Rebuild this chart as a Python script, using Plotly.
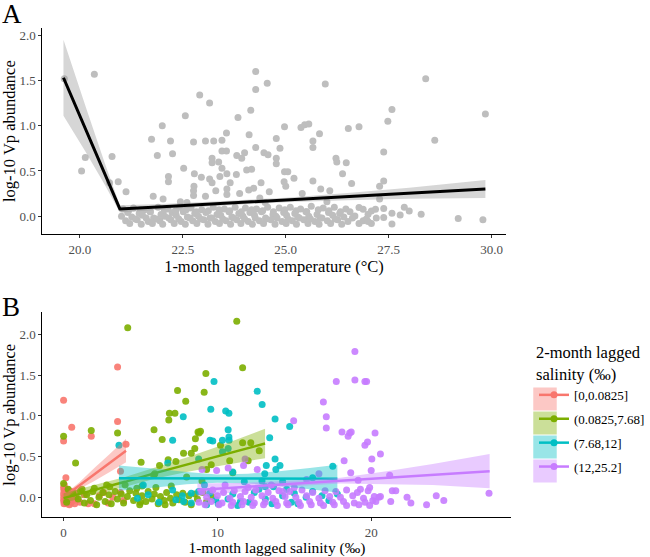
import plotly.graph_objects as go

# ---------------- Panel A: temperature vs log-10 Vp abundance ----------------
temp_a = [19.62, 20.35, 20.13, 20.04, 20.78, 20.72, 20.93, 21.12, 21.74, 22.00,
          21.88, 22.20, 22.25, 22.15, 22.15, 22.56, 22.52, 22.76, 22.78, 22.77,
          22.76, 22.76, 22.91, 23.05, 22.95, 23.15, 23.25, 23.21, 23.21, 23.37,
          23.15, 23.21, 23.05, 23.45, 23.56, 23.45, 23.56, 23.45, 23.40, 23.57,
          23.65, 23.57, 23.57, 23.81, 23.93, 24.00, 23.80, 23.88, 24.05, 24.17,
          23.84, 24.15, 24.11, 24.27, 24.27, 24.27, 24.55, 24.47, 24.57, 24.40,
          24.22, 24.10, 24.37, 24.77, 24.86, 24.77, 24.77, 24.97, 24.97, 25.05,
          24.96, 25.00, 25.20, 25.37, 25.46, 25.56, 25.66, 25.66, 25.66, 25.82,
          25.96, 26.52, 26.22, 26.24, 26.47, 26.38, 26.07, 26.78, 27.58, 27.48,
          28.40, 29.85, 28.62, 27.38, 27.38, 27.28, 27.28, 26.60, 21.78, 22.02,
          22.44, 25.40, 24.60, 25.85, 23.30, 24.50, 26.00, 22.60,
          26.78, 26.88, 27.08, 27.18, 27.00, 27.38, 27.58, 27.78, 27.88, 28.00,
          28.29, 29.19, 29.79, 27.58, 27.38, 27.08, 26.78, 26.68, 26.96, 26.88,
          27.20, 27.00,
          21.05, 21.30, 21.57, 21.90, 22.13, 22.42, 22.70, 22.96, 23.24, 23.51,
          23.77, 24.02, 24.29, 24.56, 24.84, 25.11, 25.36, 25.62, 25.91, 26.18,
          26.46, 21.16, 21.44, 21.71, 21.97, 22.24, 22.51, 22.79, 23.06, 23.33,
          23.62, 23.86, 24.13, 24.41, 24.69, 24.95, 25.22, 25.49, 25.76, 26.04,
          26.31, 26.56, 21.01, 21.26, 21.52, 21.79, 22.06, 22.34, 22.61, 22.88,
          23.16, 23.42, 23.69, 23.96, 24.24, 24.51, 24.76, 25.02, 25.29, 25.56,
          25.84, 26.14, 26.41, 21.11, 21.39, 21.66, 21.94, 22.21, 22.46, 22.74,
          23.01, 23.29, 23.55, 23.81, 24.09, 24.36, 24.64, 24.91, 25.16, 25.44,
          25.71, 26.01, 26.26, 26.51, 21.21, 21.49, 21.76, 22.01, 22.29, 22.56,
          22.84, 23.11, 23.39, 23.66, 23.91, 24.19, 24.46, 24.74, 25.01, 25.26,
          25.54, 25.81, 26.09, 26.36,
          21.18, 21.47, 21.71, 22.05, 22.33, 22.58, 22.83, 23.12, 23.38, 23.64,
          23.92, 24.17, 24.44, 24.70, 24.98, 25.25, 25.51, 25.79, 26.05, 26.33,
          21.35, 21.61, 21.86, 22.16, 22.40, 22.67, 22.93, 23.20, 23.47, 23.73,
          24.00, 24.26, 24.52, 24.79, 25.06, 25.33, 25.60, 25.88, 26.20, 26.62]
vp_a = [1.52, 1.57, 0.65, 0.50, 0.66, 0.37, 0.38, 0.27, 0.85, 1.00,
        0.67, 0.83, 0.69, 0.44, 0.38, 1.11, 0.53, 0.82, 0.47, 0.33,
        0.28, 0.23, 1.34, 0.83, 0.43, 1.25, 0.83, 0.64, 0.59, 0.60,
        0.41, 0.37, 0.22, 0.84, 0.92, 0.72, 0.72, 0.53, 0.44, 0.47,
        0.37, 0.30, 0.24, 0.67, 0.64, 0.70, 0.46, 0.25, 0.51, 0.52,
        1.09, 1.17, 0.90, 1.60, 1.40, 0.76, 1.47, 0.70, 0.68, 0.37,
        0.31, 0.29, 0.20, 0.86, 0.75, 0.64, 0.58, 0.99, 0.49, 0.49,
        0.38, 0.33, 0.42, 0.98, 1.01, 1.02, 0.83, 0.76, 0.39, 0.91,
        1.46, 0.97, 0.64, 0.60, 0.59, 0.47, 0.28, 0.99, 1.18, 1.05,
        1.52, 1.13, 0.84, 0.71, 0.39, 0.33, 0.19, 0.36, 0.22, 0.19,
        0.16, 0.25, 0.27, 0.30, 0.28, 0.15, 0.16, 0.15,
        0.095, 0.077, 0.058, 0.077, 0.022, 0.084, 0.033, 0.014, 0.10, 0.058,
        0.022, -0.025, -0.04, -0.087, -0.015, -0.08, -0.08, 0.003, -0.03, -0.05,
        -0.02, -0.06,
        0.08, 0.09, 0.07, 0.10, 0.08, 0.10, 0.09, 0.07, 0.10, 0.08,
        0.10, 0.09, 0.08, 0.10, 0.09, 0.10, 0.08, 0.11, 0.09, 0.10,
        0.08, 0.04, 0.03, 0.05, 0.02, 0.04, 0.05, 0.03, 0.04, 0.02,
        0.05, 0.03, 0.04, 0.05, 0.02, 0.04, 0.03, 0.05, 0.02, 0.04,
        0.03, 0.05, 0.00, -0.01, 0.01, -0.02, 0.00, 0.01, -0.01, 0.00,
        -0.02, 0.01, -0.01, 0.00, 0.01, -0.02, 0.00, 0.01, -0.01, 0.00,
        -0.02, 0.01, -0.01, -0.05, -0.04, -0.06, -0.05, -0.04, -0.06, -0.05,
        -0.04, -0.06, -0.05, -0.04, -0.06, -0.05, -0.04, -0.06, -0.05, -0.04,
        -0.06, -0.05, -0.04, -0.06, -0.08, -0.09, -0.08, -0.09, -0.08, -0.09,
        -0.08, -0.09, -0.08, -0.09, -0.08, -0.09, -0.08, -0.09, -0.08, -0.09,
        -0.08, -0.09, -0.08, -0.09,
        0.06, 0.07, 0.05, 0.07, 0.06, 0.07, 0.05, 0.06, 0.07, 0.06,
        0.05, 0.07, 0.06, 0.05, 0.07, 0.06, 0.05, 0.07, 0.06, 0.05,
        -0.03, -0.02, -0.03, -0.02, -0.03, -0.02, -0.03, -0.02, -0.03, -0.02,
        -0.03, -0.02, -0.03, -0.02, -0.03, -0.02, -0.03, -0.02, -0.03, -0.02]

# segmented regression
temp_fit = [19.6, 20.14, 20.6, 20.97, 22.0, 23.5, 25.0, 26.5, 28.0, 29.85]
vp_fit = [1.53, 0.96, 0.47, 0.08, 0.105, 0.143, 0.18, 0.217, 0.254, 0.30]
vp_fit_lo = [1.11, 0.71, 0.35, 0.04, 0.075, 0.118, 0.155, 0.177, 0.194, 0.20]
vp_fit_hi = [1.95, 1.21, 0.59, 0.12, 0.135, 0.168, 0.205, 0.257, 0.314, 0.40]

# ---------------- Panel B: salinity vs log-10 Vp abundance ----------------
groups = ["[0,0.0825]", "(0.0825,7.68]", "(7.68,12]", "(12,25.2]"]
colors = ["#F8766D", "#7CAE00", "#00BFC4", "#C77CFF"]
fills = ["rgba(248,118,109,0.4)", "rgba(124,174,0,0.4)",
         "rgba(0,191,196,0.4)", "rgba(199,124,255,0.4)"]

sal_red = [0.0, 0.0, 0.53, 0.15, 1.8, 3.51, 3.51, 4.06, 3.7, 0.05,
           0.0, 0.02, 0.0, 0.01, 0.0, 0.03, 0.1, 0.12, 0.09, 0.2,
           0.22, 0.18, 0.3, 0.28, 0.33, 0.4, 0.42, 0.38, 0.5, 0.52,
           0.47, 0.6, 0.63, 0.7, 0.72, 0.8, 0.05, 1.06, 1.35, 1.6,
           2.0, 2.33, 2.6, 2.9, 3.2, 3.7, 3.9]
vp_red = [1.19, 0.69, 0.86, 0.24, 0.75, 1.60, 0.93, 0.65, 0.32, 0.10,
          0.12, 0.08, 0.04, 0.0, -0.04, -0.08, 0.10, 0.02, -0.06, 0.06,
          -0.02, -0.08, 0.09, 0.01, -0.05, 0.04, -0.03, -0.09, 0.07, -0.01,
          -0.07, 0.03, -0.04, 0.06, -0.08, 0.0, 0.15, -0.06, 0.03, -0.08,
          -0.08, 0.02, 0.06, -0.07, 0.0, 0.06, -0.04]

sal_green = [4.17, 0.0, 0.78, 1.8, 3.51, 0.0, 5.88, 6.41, 6.84, 6.88,
             7.24, 7.41, 7.94, 8.53, 7.8, 8.3, 7.3, 8.74, 11.26, 11.64,
             9.25, 9.14, 8.9, 8.8, 12.17, 12.72, 11.64, 8.57, 9.3, 9.6,
             10.2, 5.04, 5.86, 6.24, 6.8, 9.0, 8.0, 10.8, 11.0, 12.0,
             4.76, 5.1, 5.93, 2.8, 1.2, 0.3, 0.2, 2.0, 3.0, 4.0,
             6.0, 7.0, 5.0, 6.6, 0.6, 0.95, 1.1, 1.35, 1.5, 1.75,
             1.9, 2.15, 2.3, 2.55, 2.7, 2.95, 3.1, 3.35, 3.5, 3.75,
             3.9, 4.15, 4.3, 4.55, 4.7, 4.95, 5.1, 5.35, 5.5, 5.75,
             5.9, 6.15, 6.3, 6.55, 6.7, 6.95, 7.1, 7.35, 7.5, 7.75,
             7.9, 8.15, 8.3, 8.55, 8.7, 9.05, 9.3, 9.65]
vp_green = [2.08, 0.75, 0.42, 0.82, 0.79, 0.17, 0.83, 0.71, 0.95, 1.03,
            1.03, 1.31, 1.18, 0.60, 0.54, 0.54, 0.44, 0.80, 2.16, 1.59,
            1.52, 1.29, 0.81, 0.79, 0.67, 0.57, 0.67, 0.72, 0.34, 0.40,
            0.64, 0.43, 0.27, 0.39, 0.46, 0.20, 0.25, 0.45, 0.30, 0.45,
            0.11, 0.14, 0.29, 0.15, 0.10, 0.10, -0.06, 0.11, 0.13, 0.15,
            0.12, 0.14, -0.06, -0.09, 0.05, -0.02, 0.08, -0.07, 0.03, -0.04,
            0.07, -0.09, 0.0, 0.06, -0.05, 0.03, -0.08, 0.07, -0.02, 0.04,
            -0.07, 0.01, 0.08, -0.04, 0.05, -0.09, 0.02, -0.05, 0.07, -0.02,
            0.04, -0.08, 0.01, -0.04, 0.06, -0.01, -0.07, 0.03, -0.03, 0.05,
            -0.06, 0.02, -0.09, 0.04, -0.02, 0.06, -0.05, 0.01]

sal_cyan = [9.78, 12.59, 12.91, 9.57, 10.54, 10.75, 13.75, 14.7, 10.7, 10.75,
            10.76, 9.52, 9.7, 13.4, 7.78, 7.09, 3.6, 17.5, 6.77, 8.78,
            10.33, 10.7, 10.33, 13.75, 14.07, 13.8, 13.18, 13.08, 16.19, 14.5,
            5.18, 7.09, 7.72, 8.3, 7.3, 7.8, 8.3, 10.05, 10.69, 11.32,
            12.06, 13.12, 13.55, 14.81, 15.24, 15.77, 14.24, 13.65, 13.12, 16.19,
            17.25, 9.16, 8.78, 9.5, 9.9, 11.75, 11.0, 14.24, 12.9, 4.8,
            5.5, 6.2, 11.0, 12.4, 15.0, 16.8, 17.8, 11.5, 9.3, 12.7]
vp_cyan = [1.42, 1.30, 1.14, 1.08, 1.06, 1.03, 0.96, 0.87, 0.83, 0.74,
           0.70, 0.70, 0.69, 0.73, 0.99, 0.70, 0.64, 0.38, 0.42, 0.47,
           0.70, 0.60, 0.56, 0.47, 0.39, 0.34, 0.39, 0.29, 0.24, 0.10,
           0.15, 0.09, 0.02, 0.05, -0.03, -0.05, -0.07, -0.08, -0.02, -0.10,
           -0.06, -0.02, -0.08, -0.06, -0.08, 0.0, 0.02, 0.13, 0.13, 0.07,
           -0.04, 0.15, 0.07, 0.05, -0.03, 0.19, 0.31, 0.19, 0.20, -0.01,
           0.03, -0.06, 0.04, 0.06, 0.05, 0.02, 0.04, -0.05, -0.09, 0.10]

sal_purple = [18.94, 18.94, 19.59, 19.7, 17.73, 16.89, 17.08, 17.08, 18.1, 18.6,
              18.5, 20.25, 19.59, 19.76, 20.04, 20.6, 20.0, 21.2, 19.15, 14.96,
              18.24, 18.67, 12.59, 11.7, 11.8, 10.7, 16.6, 15.8, 14.24, 21.37,
              21.6, 22.33, 22.58, 23.6, 24.23, 24.72, 27.66, 21.27, 20.5, 20.6,
              19.3, 19.9, 20.1, 9.95, 9.0, 10.5, 12.0, 13.5, 15.0, 18.7,
              9.0, 9.7, 10.4, 11.1, 11.8, 12.5, 13.3, 14.0, 14.7, 15.5,
              16.2, 17.0, 17.7, 18.4, 19.1, 19.8, 9.3, 10.0, 10.8, 11.5,
              12.2, 12.9, 13.6, 14.4, 15.1, 15.8, 16.6, 17.3, 18.0, 18.8,
              19.5, 20.2, 8.8, 9.6, 10.3, 11.0, 11.7, 12.4, 13.1, 13.8,
              14.5, 15.3, 16.0, 16.7, 17.5, 18.2, 18.9, 19.6, 20.3, 9.2,
              10.1, 10.9, 11.6, 12.3, 13.0, 13.9, 14.6, 15.4, 16.1, 16.9,
              17.6, 18.4, 19.2, 19.9]
vp_purple = [1.79, 1.44, 1.42, 1.42, 1.42, 1.17, 0.99, 0.85, 0.80, 0.79,
             0.75, 0.79, 0.64, 0.68, 0.47, 0.53, 0.33, 0.27, 0.21, 0.94,
             0.45, 0.30, 0.34, 0.39, 0.47, 0.36, 0.29, 0.22, 0.07, 0.08,
             0.08, 0.0, -0.07, -0.09, 0.02, -0.04, 0.05, -0.05, 0.0, 0.01,
             0.10, 0.12, -0.04, 0.33, 0.34, 0.15, 0.12, 0.15, 0.12, 0.80,
             0.07, 0.09, 0.06, 0.08, 0.07, 0.09, 0.06, 0.08, 0.07, 0.09,
             0.06, 0.08, 0.07, 0.09, 0.06, 0.08, 0.0, 0.02, -0.01, 0.01,
             0.0, 0.02, -0.01, 0.01, 0.0, 0.02, -0.01, 0.01, 0.0, 0.02,
             -0.01, 0.01, -0.06, -0.05, -0.07, -0.06, -0.05, -0.07, -0.06, -0.05,
             -0.07, -0.06, -0.05, -0.07, -0.06, -0.05, -0.07, -0.06, -0.05, -0.09,
             -0.09, -0.10, -0.09, -0.10, -0.09, -0.10, -0.09, -0.10, -0.09, -0.10,
             -0.09, -0.10, -0.09, -0.10]

# linear fits per group (line and confidence band)
fit_x = [[0.0, 1.0, 2.0, 3.0, 4.06],
         [0.0, 2.0, 4.0, 6.0, 8.0, 10.0, 13.1],
         [3.6, 6.0, 8.0, 10.0, 12.0, 14.0, 16.0, 17.8],
         [8.7, 12.0, 15.0, 18.0, 21.0, 24.0, 27.7]]
fit_y = [[0.0, 0.14, 0.28, 0.42, 0.57],
         [-0.01, 0.09, 0.19, 0.30, 0.40, 0.50, 0.66],
         [0.235, 0.234, 0.233, 0.232, 0.231, 0.230, 0.229, 0.228],
         [0.09, 0.13, 0.17, 0.205, 0.24, 0.28, 0.32]]
fit_lo = [[-0.03, 0.10, 0.20, 0.31, 0.43],
          [-0.07, 0.03, 0.13, 0.23, 0.31, 0.38, 0.48],
          [0.08, 0.12, 0.16, 0.18, 0.17, 0.14, 0.10, 0.06],
          [0.01, 0.08, 0.135, 0.17, 0.16, 0.15, 0.11]]
fit_hi = [[0.03, 0.18, 0.36, 0.53, 0.72],
          [0.05, 0.15, 0.25, 0.37, 0.49, 0.62, 0.84],
          [0.39, 0.35, 0.31, 0.28, 0.29, 0.32, 0.36, 0.40],
          [0.17, 0.18, 0.205, 0.24, 0.32, 0.41, 0.53]]

sal = [sal_red, sal_green, sal_cyan, sal_purple]
vp = [vp_red, vp_green, vp_cyan, vp_purple]

FONT = "Liberation Serif"

fig = go.Figure()

# Panel A
fig.add_scatter(x=temp_a, y=vp_a, mode="markers", xaxis="x", yaxis="y",
                marker=dict(color="#BEBEBE", size=7), showlegend=False)
fig.add_scatter(x=temp_fit + temp_fit[::-1], y=vp_fit_hi + vp_fit_lo[::-1],
                xaxis="x", yaxis="y", fill="toself", mode="none",
                fillcolor="rgba(153,153,153,0.4)", showlegend=False)
fig.add_scatter(x=temp_fit, y=vp_fit, mode="lines", xaxis="x", yaxis="y",
                line=dict(color="black", width=3), showlegend=False)

# Panel B points
for i in range(4):
    fig.add_scatter(x=sal[i], y=vp[i], mode="markers", xaxis="x2", yaxis="y2",
                    marker=dict(color=colors[i], size=7, opacity=0.9),
                    showlegend=False)
# Panel B fits
for i in range(4):
    fig.add_scatter(x=fit_x[i] + fit_x[i][::-1], y=fit_hi[i] + fit_lo[i][::-1],
                    xaxis="x2", yaxis="y2", fill="toself", mode="none",
                    fillcolor=fills[i], showlegend=False)
    fig.add_scatter(x=fit_x[i], y=fit_y[i], mode="lines", xaxis="x2", yaxis="y2",
                    line=dict(color=colors[i], width=2.5), showlegend=False)
# legend entries
for i in range(4):
    fig.add_scatter(x=[None], y=[None], mode="lines+markers", xaxis="x2", yaxis="y2",
                    line=dict(color=colors[i], width=2.5),
                    marker=dict(color=colors[i], size=7),
                    name=groups[i], legendgroup=groups[i])

axis_common = dict(showline=True, linecolor="black", linewidth=1, ticks="outside",
                   ticklen=3, tickcolor="#333333", showgrid=False, zeroline=False,
                   automargin=False,
                   tickfont=dict(size=13, color="#4D4D4D", family=FONT))
title_font = dict(size=16.5, color="black", family=FONT)

# shaded legend keys (geom_smooth style), behind the legend symbols
key_centres = [399, 423, 447, 471]
key_shapes = [dict(type="rect", xref="paper", yref="paper",
                   x0=545 / 650, x1=569 / 650,
                   y0=1 - (c + 11.5) / 557, y1=1 - (c - 11.5) / 557,
                   fillcolor=fills[i], line=dict(width=0), layer="above")
              for i, c in enumerate(key_centres)]

fig.update_layout(
    width=650, height=557,
    margin=dict(l=0, r=0, t=0, b=0),
    paper_bgcolor="white", plot_bgcolor="white",
    font=dict(family=FONT, color="black"),
    xaxis=dict(domain=[0.0666, 0.7949], anchor="y", range=[19.087, 30.34],
               tickvals=[20, 22.5, 25, 27.5, 30], tickformat=".1f",
               title=dict(text="1-month lagged temperature (°C)", font=title_font, standoff=2),
               **axis_common),
    yaxis=dict(domain=[0.5794, 0.9497], anchor="x", range=[-0.2, 2.08],
               tickvals=[0, 0.5, 1, 1.5, 2], tickformat=".1f",
               title=dict(text="log-10 Vp abundance", font=title_font, standoff=4),
               **axis_common),
    xaxis2=dict(domain=[0.0666, 0.8042], anchor="y2", range=[-1.38, 29.12],
                tickvals=[0, 10, 20],
                title=dict(text="1-month lagged salinity (‰)",
                           font=dict(size=15.5, color="black", family=FONT), standoff=6),
                **axis_common),
    yaxis2=dict(domain=[0.0713, 0.4393], anchor="x2", range=[-0.245, 2.27],
                tickvals=[0, 0.5, 1, 1.5, 2], tickformat=".1f",
                title=dict(text="log-10 Vp abundance", font=title_font, standoff=4),
                **axis_common),
    legend=dict(x=546 / 650, xanchor="left", y=1 - 337 / 557, yanchor="top",
                title=dict(text="2-month lagged<br>salinity (‰)", font=dict(size=16.5, family=FONT)),
                font=dict(size=13, family=FONT), tracegroupgap=4, itemwidth=30,
                bgcolor="rgba(0,0,0,0)"),
    shapes=key_shapes,
    annotations=[
        dict(text="A", x=0, y=1 - 13.5 / 557, xref="paper", yref="paper",
             xanchor="left", yanchor="middle", showarrow=False,
             font=dict(size=27, family=FONT, color="black")),
        dict(text="B", x=0, y=1 - 307 / 557, xref="paper", yref="paper",
             xanchor="left", yanchor="middle", showarrow=False,
             font=dict(size=27, family=FONT, color="black")),
    ],
)

# the page's default body margin would shift and crop the 650x557 figure
fig.write_html("out.html", config={"displayModeBar": False},
               post_script="document.body.style.margin = '0px';")
